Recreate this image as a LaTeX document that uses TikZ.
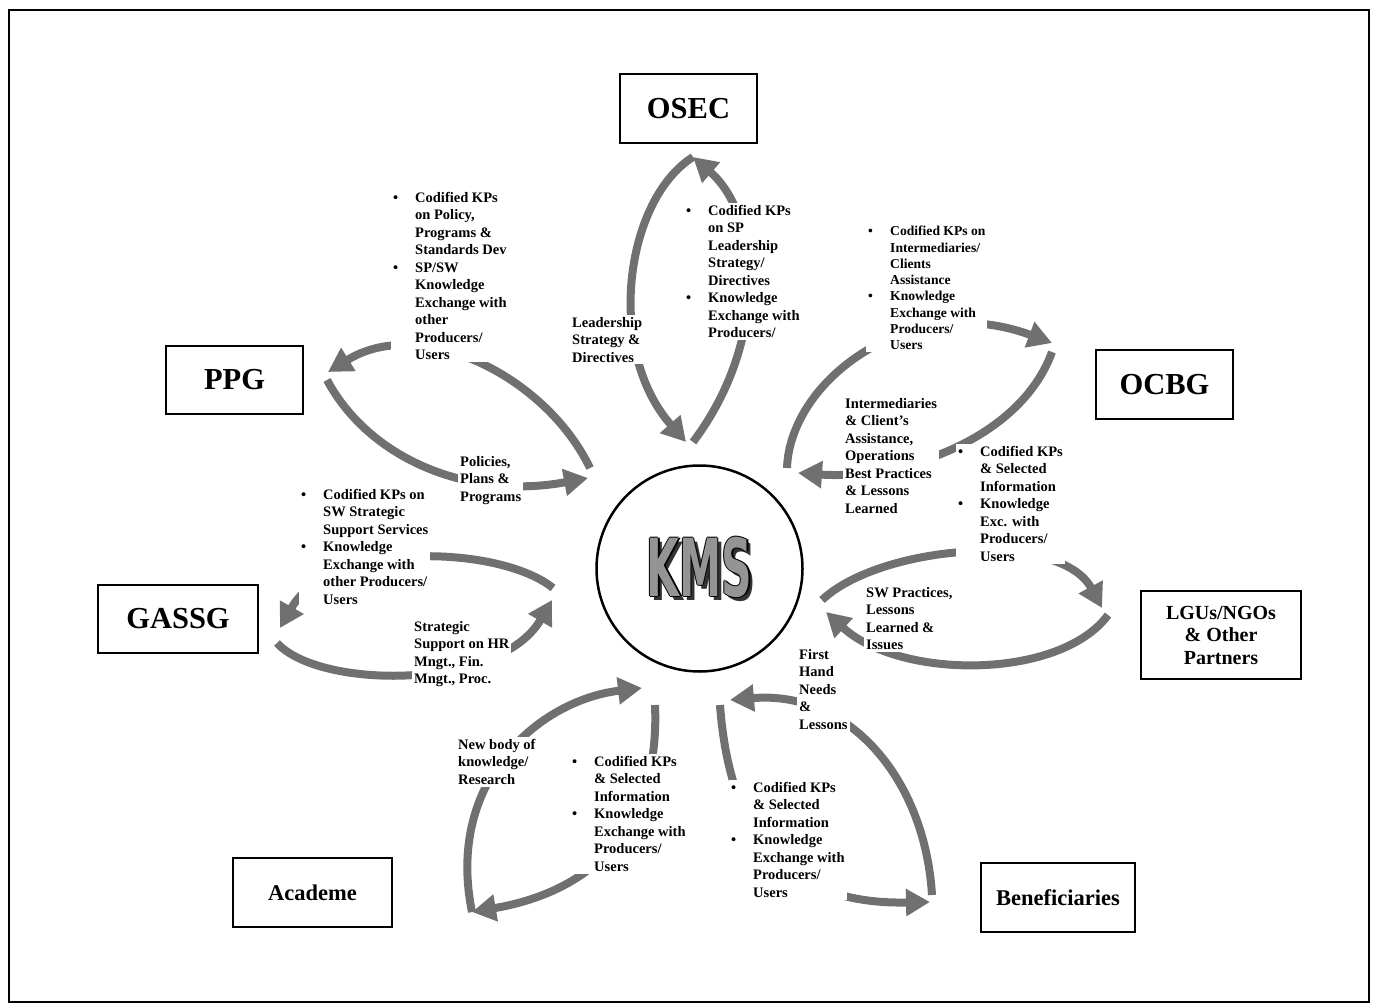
\documentclass[tikz,border=0pt]{standalone}
\usepackage{fontspec}
\setmainfont{Liberation Serif}
\newfontfamily\kmsfont{DejaVu Sans}
\usepackage{graphicx}
\usetikzlibrary{arrows.meta}
\definecolor{arrowgray}{RGB}{112,112,112}
\newcommand\bl{\makebox[22pt][l]{\textbullet}}
\newcommand\ind{\hspace*{22pt}}
\newcommand\kmsg{\scalebox{0.53}[1]{\kmsfont\bfseries\fontsize{80}{80}\selectfont KMS}}
\newcommand\kmsword{\leavevmode
 \rlap{\kern3.5pt\raisebox{-3.5pt}{\color{black!80}\kmsg}}%
 \rlap{\kern-1.3pt\color{black}\kmsg}%
 \rlap{\kern1.3pt\color{black}\kmsg}%
 \rlap{\raisebox{1.3pt}{\color{black}\kmsg}}%
 \rlap{\raisebox{-1.3pt}{\color{black}\kmsg}}%
 {\color{black!42}\kmsg}}
\begin{document}
\begin{tikzpicture}[x=1pt,y=-1pt,
  unit/.style={draw, line width=1.8pt, inner sep=0pt, align=center,
    font=\bfseries\fontsize{30.5}{32}\selectfont},
  unitsm/.style={unit, font=\bfseries\fontsize{20}{22.5}\selectfont},
  unitmd/.style={unit, font=\bfseries\fontsize{22.5}{24}\selectfont},
  txt/.style={anchor=north west, align=left, fill=white, inner sep=2pt,
    font=\bfseries\fontsize{14.5}{17.5}\selectfont},
  txtsm/.style={txt, font=\bfseries\fontsize{13.6}{16.3}\selectfont},
  flow/.style={line width=8pt, draw=arrowgray,
    -{Triangle[length=24pt,width=26pt]}}]
\useasboundingbox (0,0) rectangle (1376,1008);
\draw[line width=1.5pt] (9,10) rectangle (1369,1002);

% units
\node[unit, minimum width=137pt, minimum height=69pt] (osec) at (688.5,108.5) {OSEC};
\node[unit, minimum width=137pt, minimum height=68pt] (ppg) at (234.5,380) {PPG};
\node[unit, minimum width=137pt, minimum height=69pt] (ocbg) at (1164.5,384.5) {OCBG};
\node[unit, minimum width=160pt, minimum height=68pt] (gassg) at (178,619) {GASSG};
\node[unitsm, minimum width=160pt, minimum height=88pt] (lgu) at (1221,635) {LGUs/NGOs\\\& Other\\Partners};
\node[unitmd, minimum width=159pt, minimum height=69pt] (acad) at (312.5,892.5) {Academe};
\node[unitmd, minimum width=154pt, minimum height=69pt] (benef) at (1058,897.5) {Beneficiaries};
\node[circle, draw, line width=2.5pt, minimum size=206pt, inner sep=0pt] (kms) at (699.5,568.5) {\kmsword};

% connector end points
\coordinate (osecEnd) at (693,157);
\coordinate (kmsOsA) at (686,442);
\coordinate (kmsOsB) at (693,442);
\coordinate (ppgEndA) at (328,372);
\coordinate (ppgEndB) at (327,380);
\coordinate (kmsPpA) at (590,468);
\coordinate (kmsPpB) at (588,478);
\coordinate (ocbgEndA) at (1052,343);
\coordinate (ocbgEndB) at (1052,352);
\coordinate (kmsOcA) at (787,468);
\coordinate (kmsOcB) at (798,473);
\coordinate (lguEndA) at (1102,608);
\coordinate (lguEndB) at (1108,615);
\coordinate (kmsLgA) at (822,600);
\coordinate (kmsLgB) at (826,612);
\coordinate (gasEndA) at (280,628);
\coordinate (gasEndB) at (277,643);
\coordinate (kmsGaA) at (553,588);
\coordinate (kmsGaB) at (552,600);
\coordinate (acadEnd) at (472,912);
\coordinate (kmsAcA) at (642,688);
\coordinate (kmsAcB) at (655,705);
\coordinate (benEndA) at (930,902);
\coordinate (benEndB) at (932,895);
\coordinate (kmsBeA) at (720,705);
\coordinate (kmsBeB) at (730,700);

% connectors
\draw[flow] (osecEnd) .. controls (625,200) and (605,350) .. (kmsOsA);
\draw[flow] (kmsOsB) .. controls (770,340) and (760,215) .. (osecEnd);
\draw[flow] (kmsPpA) .. controls (545,375) and (420,315) .. (ppgEndA);
\draw[flow] (ppgEndB) .. controls (370,460) and (470,500) .. (kmsPpB);
\draw[flow] (kmsOcA) .. controls (790,380) and (910,290) .. (ocbgEndA);
\draw[flow] (ocbgEndB) .. controls (1020,440) and (900,480) .. (kmsOcB);
\draw[flow] (kmsLgA) .. controls (880,545) and (1060,530) .. (lguEndA);
\draw[flow] (lguEndB) .. controls (1060,680) and (900,680) .. (kmsLgB);
\draw[flow] (kmsGaA) .. controls (500,545) and (330,540) .. (gasEndA);
\draw[flow] (gasEndB) .. controls (320,690) and (500,690) .. (kmsGaB);
\draw[flow] (acadEnd) .. controls (445,780) and (540,700) .. (kmsAcA);
\draw[flow] (kmsAcB) .. controls (660,820) and (600,890) .. (acadEnd);
\draw[flow] (kmsBeA) .. controls (730,840) and (790,905) .. (benEndA);
\draw[flow] (benEndB) .. controls (925,780) and (850,690) .. (kmsBeB);

% labels
\node[txt] (tl) at (391,190) {\bl Codified KPs\\ \ind on Policy,\\ \ind Programs \&\\ \ind Standards Dev\\ \bl SP/SW\\ \ind Knowledge\\ \ind Exchange with\\ \ind other\\ \ind Producers/\\ \ind Users};
\node[txt] (tm) at (684,203) {\bl Codified KPs\\ \ind on SP\\ \ind Leadership\\ \ind Strategy/\\ \ind Directives\\ \bl Knowledge\\ \ind Exchange with\\ \ind Producers/};
\node[txt] (lead) at (570,315) {Leadership\\Strategy \&\\Directives};
\node[txtsm] (tr) at (866,224) {\bl Codified KPs on\\ \ind Intermediaries/\\ \ind Clients\\ \ind Assistance\\ \bl Knowledge\\ \ind Exchange with\\ \ind Producers/\\ \ind Users};
\node[txt] (inter) at (843,396) {Intermediaries\\\& Client’s\\Assistance,\\Operations\\Best Practices\\\& Lessons\\Learned};
\node[txt] (rb) at (956,444) {\bl Codified KPs\\ \ind \& Selected\\ \ind Information\\ \bl Knowledge\\ \ind Exc. with\\ \ind Producers/\\ \ind Users};
\node[txt] (pol) at (458,454) {Policies,\\Plans \&\\Programs};
\node[txt] (lb) at (299,487) {\bl Codified KPs on\\ \ind SW Strategic\\ \ind Support Services\\ \bl Knowledge\\ \ind Exchange with\\ \ind other Producers/\\ \ind Users};
\node[txt] (strat) at (412,619) {Strategic\\Support on HR\\Mngt., Fin.\\Mngt., Proc.};
\node[txt] (swp) at (864,585) {SW Practices,\\Lessons\\Learned \&\\Issues};
\node[txt] (fh) at (797,647) {First\\Hand\\Needs\\\&\\Lessons};
\node[txt] (nb) at (456,737) {New body of\\knowledge/\\Research};
\node[txt] (bm) at (570,754) {\bl Codified KPs\\ \ind \& Selected\\ \ind Information\\ \bl Knowledge\\ \ind Exchange with\\ \ind Producers/\\ \ind Users};
\node[txt] (br) at (729,780) {\bl Codified KPs\\ \ind \& Selected\\ \ind Information\\ \bl Knowledge\\ \ind Exchange with\\ \ind Producers/\\ \ind Users};
\end{tikzpicture}
\end{document}
